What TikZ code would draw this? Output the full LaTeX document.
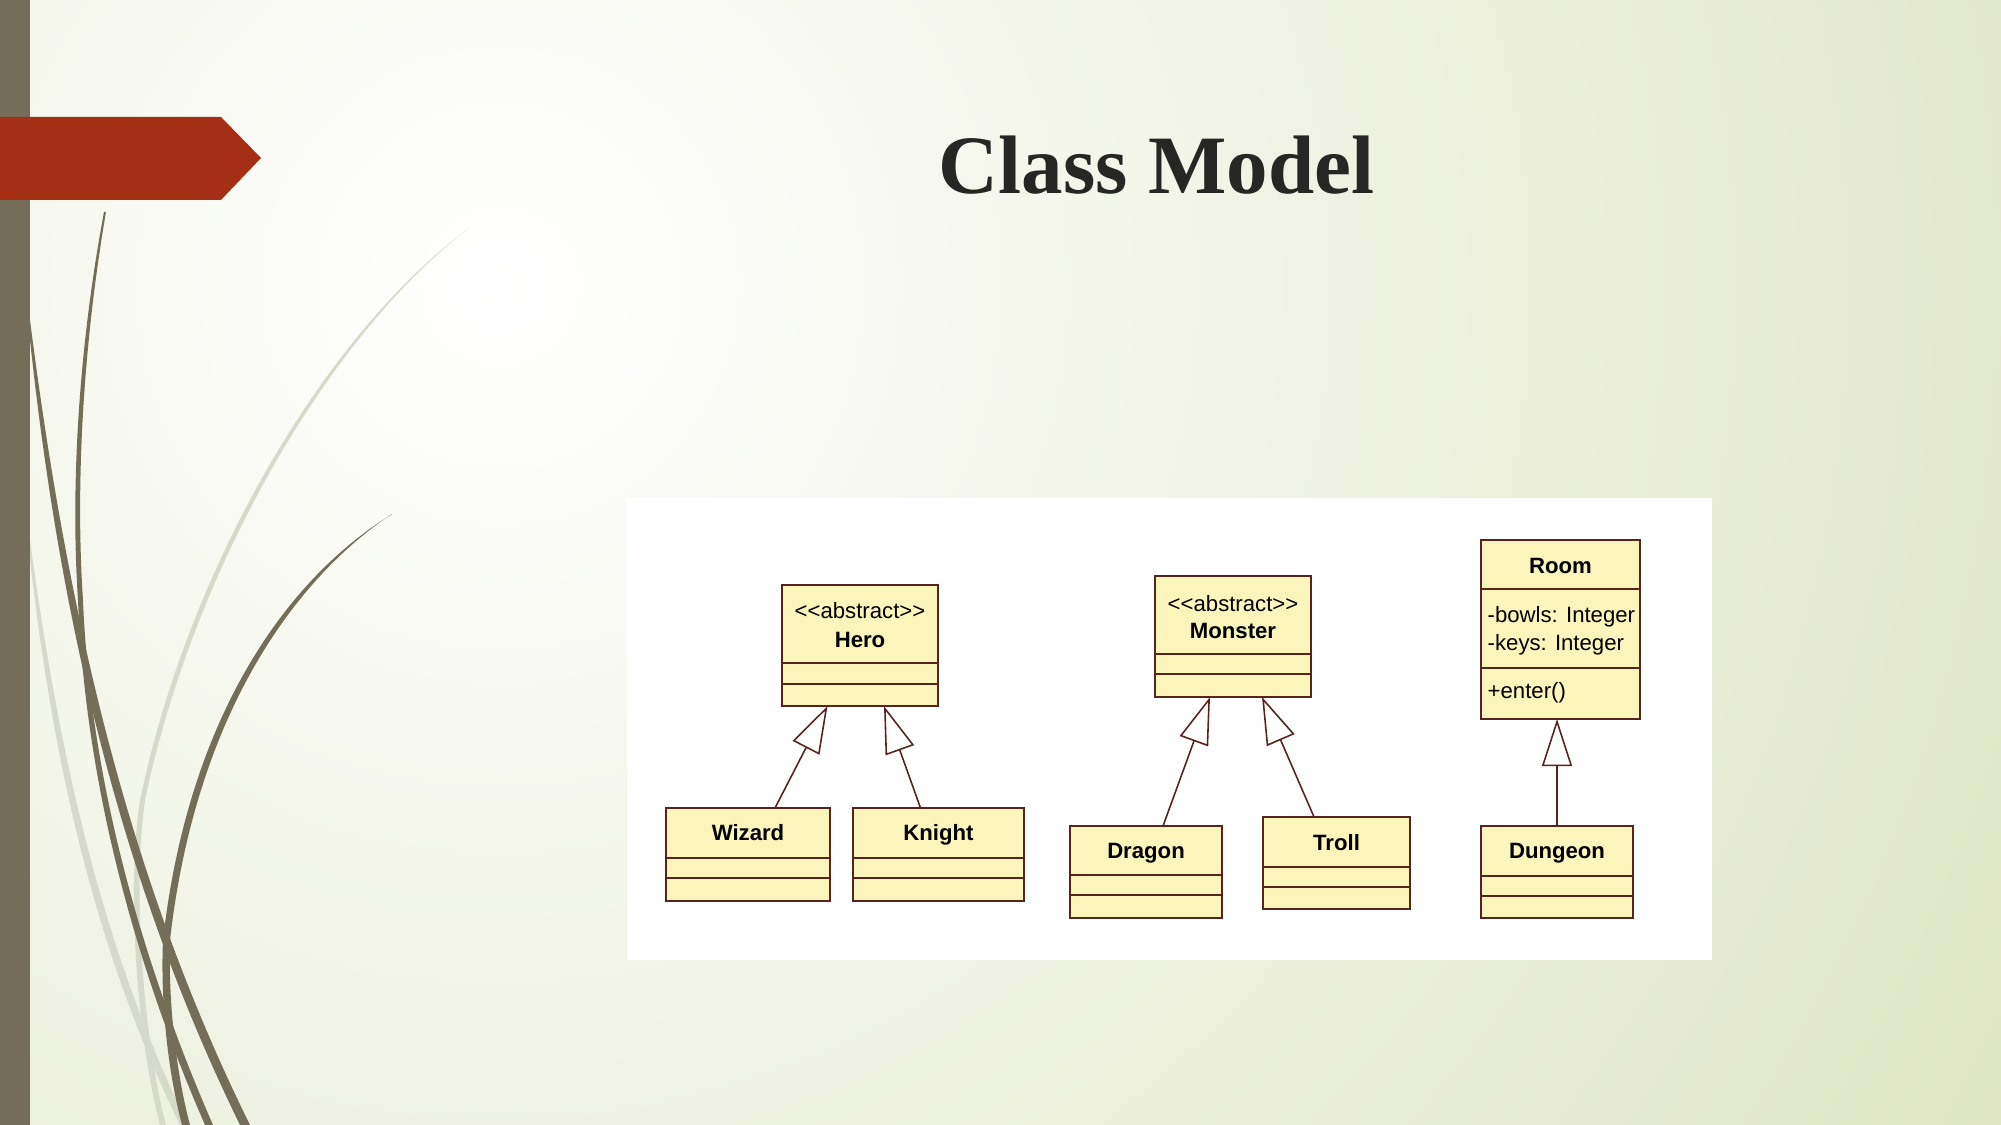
\documentclass[tikz,border=0pt]{standalone}
\usepackage{fontspec}
\newfontfamily\umlfont{Liberation Sans}
\newfontfamily\titlefont{Liberation Serif}
\usetikzlibrary{arrows.meta, calc}
\definecolor{bggreen}{RGB}{221,228,194}
\definecolor{barolive}{RGB}{116,110,88}
\definecolor{bannerred}{RGB}{165,47,20}
\definecolor{titlegray}{RGB}{38,38,36}
\definecolor{umlfill}{RGB}{251,245,187}
\definecolor{umlline}{RGB}{88,36,30}
\definecolor{bladegray}{RGB}{214,218,202}

\begin{document}
\begin{tikzpicture}[x=0.01cm, y=-0.01cm,
  cls/.style={draw=umlline, fill=umlfill, line width=0.6pt, inner sep=0pt, outer sep=0pt},
  cname/.style={font=\umlfont\bfseries\fontsize{6.3}{7.5}\selectfont, anchor=base, inner sep=0pt},
  cnote/.style={font=\umlfont\fontsize{6.3}{7.5}\selectfont, anchor=base, inner sep=0pt},
  divline/.style={draw=umlline, line width=0.6pt},
  gen/.style={draw=umlline, line width=0.45pt, -{Triangle[length=4.7mm, width=3mm, fill=white]}}
]
  \useasboundingbox (0,0) rectangle (2001,1125);
  \begin{scope}
    \clip (0,0) rectangle (2001,1125);
    \fill[bggreen] (0,0) rectangle (2001,1125);
    \shade[inner color=white, outer color=bggreen] (500,285) circle (18cm);
  \end{scope}

  % grass blades
  \fill[bladegray] (467,230) .. controls (330,330) and (190,560) .. (140,800) .. controls (125,900) and (140,1050) .. (160,1125)
    -- (166,1125) .. controls (146,1050) and (131,900) .. (145,800) .. controls (195,562) and (333,332) .. (468,229) -- cycle;
  \fill[bladegray] (30,560) .. controls (55,780) and (100,960) .. (180,1125)
    -- (188,1125) .. controls (107,958) and (62,778) .. (30,540) -- cycle;
  \fill[barolive] (104,212) .. controls (80,340) and (70,480) .. (78,600) .. controls (84,750) and (120,930) .. (205,1125)
    -- (213,1125) .. controls (127,928) and (89,750) .. (83,600) .. controls (75,480) and (84,340) .. (106,212) -- cycle;
  \fill[barolive] (30,340) .. controls (60,620) and (120,880) .. (240,1125)
    -- (250,1125) .. controls (128,878) and (68,618) .. (30,320) -- cycle;
  \fill[barolive] (391,515) .. controls (300,570) and (190,700) .. (163,940) .. controls (160,1010) and (170,1080) .. (182,1125)
    -- (190,1125) .. controls (178,1080) and (168,1010) .. (170,940) .. controls (197,703) and (304,572) .. (392,514) -- cycle;

  \fill[barolive] (0,0) rectangle (29.5,1125);
  \fill[bannerred] (0,117) -- (221,117) -- (261,158) -- (221,200) -- (0,200) -- cycle;

  \node[font=\titlefont\bfseries\fontsize{23.6}{28}\selectfont, text=titlegray, anchor=base, inner sep=0pt] (title) at (1156.5,194) {Class Model};

  \fill[white] (627,498) rectangle (1712,960);

  \node[cls, minimum width=1.56cm, minimum height=1.21cm] (hero) at (860,645.5) {};
  \node[cnote] (herotag) at (860,618) {<\kern0pt<abstract>\kern0pt>};
  \node[cname] (heroname) at (860,647) {Hero};
  \node[cls, minimum width=1.64cm, minimum height=0.93cm] (wizard) at (748,854.5) {};
  \node[cname] (wizardname) at (748,840) {Wizard};
  \node[cls, minimum width=1.71cm, minimum height=0.93cm] (knight) at (938.5,854.5) {};
  \node[cname] (knightname) at (938.5,840) {Knight};

  \node[cls, minimum width=1.56cm, minimum height=1.21cm] (monster) at (1233,636.5) {};
  \node[cnote] (monstertag) at (1233,611) {<\kern0pt<abstract>\kern0pt>};
  \node[cname] (monstername) at (1233,638) {Monster};
  \node[cls, minimum width=1.52cm, minimum height=0.92cm] (dragon) at (1146,872) {};
  \node[cname] (dragonname) at (1146,858) {Dragon};
  \node[cls, minimum width=1.47cm, minimum height=0.92cm] (troll) at (1336.5,863) {};
  \node[cname] (trollname) at (1336.5,850) {Troll};

  \node[cls, minimum width=1.59cm, minimum height=1.79cm] (room) at (1560.5,629.5) {};
  \node[cname] (roomname) at (1560.5,573) {Room};
  \node[cnote, anchor=base west] (roombowls) at (1487,622) {-bowls: Integer};
  \node[cnote, anchor=base west] (roomkeys) at (1487,650) {-keys: Integer};
  \node[cnote, anchor=base west] (roomenter) at (1487,698) {+enter()};
  \node[cls, minimum width=1.52cm, minimum height=0.92cm] (dungeon) at (1557,872) {};
  \node[cname] (dungeonname) at (1557,858) {Dungeon};

  \foreach \n/\a/\b in {hero/78/99, wizard/50/70, knight/50/70, monster/78/98,
                        dragon/49/69, troll/50/70, room/49/128, dungeon/50/70} {
    \draw[divline] ($(\n.north west)+(0,\a)$) -- ($(\n.north east)+(0,\a)$);
    \draw[divline] ($(\n.north west)+(0,\b)$) -- ($(\n.north east)+(0,\b)$);
  }

  \draw[gen] ([xshift=2.7mm]wizard.north) -- ([xshift=-3.25mm]hero.south);
  \draw[gen] ([xshift=-1.8mm]knight.north) -- ([xshift=2.4mm]hero.south);
  \draw[gen] ([xshift=1.7mm]dragon.north) -- ([xshift=-2.3mm]monster.south);
  \draw[gen] ([xshift=-2.25mm]troll.north) -- ([xshift=2.9mm]monster.south);
  \draw[gen] (dungeon.north) -- (dungeon.north |- room.south);
\end{tikzpicture}
\end{document}
